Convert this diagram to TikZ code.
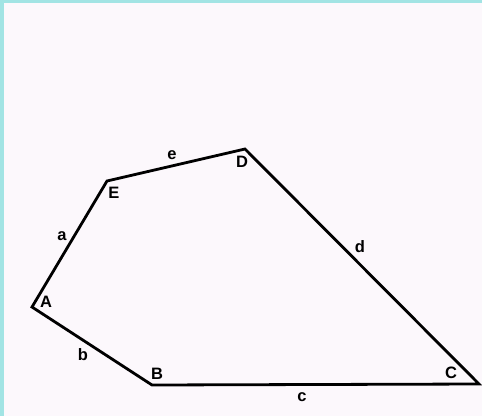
\documentclass[tikz,border=0pt]{standalone}
\usepackage{fontspec}
\setmainfont{Liberation Sans}
\begin{document}
\begin{tikzpicture}[x=1pt,y=-1pt,
  lbl/.style={inner sep=0pt,font=\fontsize{16.5}{16.5}\selectfont\bfseries},
  edge/.style={line width=2.8pt,line join=miter}]
\definecolor{bgc}{HTML}{FCF8FC}
\definecolor{brd}{HTML}{A2E4E4}
\useasboundingbox (0,0) rectangle (482,416);
\fill[bgc] (0,0) rectangle (482,416);
\fill[brd] (0,0) rectangle (482,3);
\fill[brd] (0,0) rectangle (4,416);
\coordinate (A) at (32,307);
\coordinate (B) at (152,385);
\coordinate (C) at (479,384);
\coordinate (D) at (245,149);
\coordinate (E) at (107,181);
\draw[edge] (A) -- (B) -- (C) -- (D) -- (E) -- cycle;
\node[lbl] (lA) at (46,302) {A};
\node[lbl] (lB) at (157,374) {B};
\node[lbl] (lC) at (451,373) {C};
\node[lbl] (lD) at (242,162) {D};
\node[lbl] (lE) at (114,193) {E};
\node[lbl] (la) at (62,236) {a};
\node[lbl] (lb) at (83,355) {b};
\node[lbl] (lc) at (302,397) {c};
\node[lbl] (ld) at (360,247) {d};
\node[lbl] (le) at (172,155) {e};
\end{tikzpicture}
\end{document}
